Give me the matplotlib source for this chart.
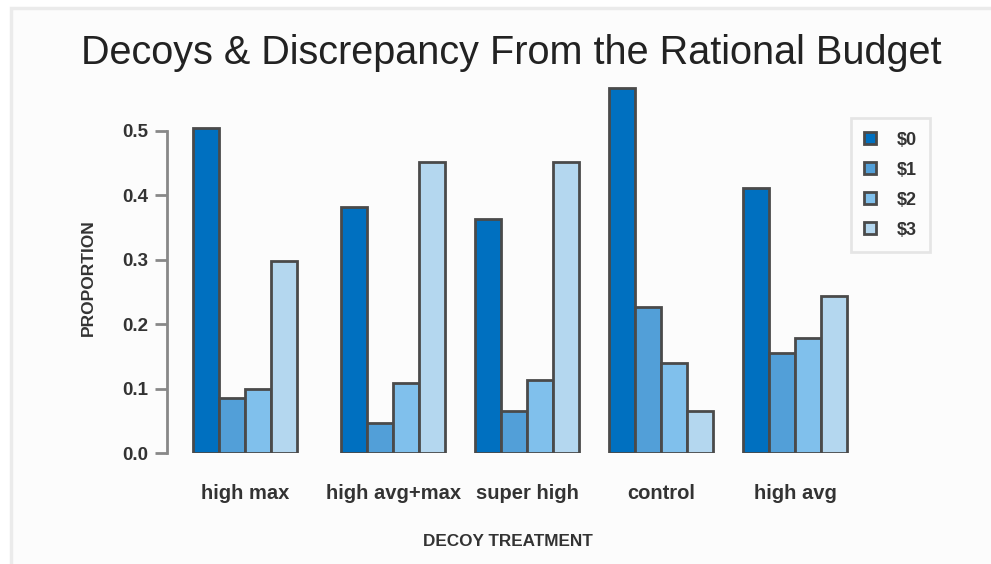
import numpy as np
import matplotlib.pyplot as plt
from matplotlib.patches import Rectangle

plt.rcParams['font.family'] = ['Liberation Sans', 'DejaVu Sans']

# proportion of subjects by discrepancy from the rational budget
treatments = ['high max', 'high avg+max', 'super high', 'control', 'high avg']
levels = ['$0', '$1', '$2', '$3']
d0 = [0.505, 0.382, 0.364, 0.567, 0.412]
d1 = [0.086, 0.047, 0.065, 0.227, 0.156]
d2 = [0.100, 0.109, 0.114, 0.140, 0.179]
d3 = [0.298, 0.452, 0.452, 0.065, 0.244]
colors = ['#0070c0', '#529fd8', '#80c0ec', '#b4d7ef']

fig = plt.figure(figsize=(9.91, 5.64), dpi=100)
fig.patch.set_facecolor('white')
# light panel behind the chart
fig.patches.append(Rectangle((11 / 991, -0.05), 1.1, (564 - 8) / 564 + 0.05,
                             transform=fig.transFigure, facecolor='#fcfcfc',
                             edgecolor='#ebebeb', lw=2.5, zorder=-10))

ax = fig.add_axes([167 / 991, (564 - 453.3) / 564, (940 - 167) / 991, 387 / 564])
ax.patch.set_alpha(0)

x = np.arange(len(treatments)).astype(float)
x[0] -= 0.104
w = 0.194
for i, vals in enumerate([d0, d1, d2, d3]):
    ax.bar(x + (i - 1.5) * w, vals, w, color=colors[i], edgecolor='#4a4a4a',
           linewidth=2, label=levels[i], zorder=3)

ax.set_xlim(-0.687, 5.08)
ax.set_ylim(0, 0.6)
ax.set_yticks([0.0, 0.1, 0.2, 0.3, 0.4, 0.5])
ax.set_yticklabels(['0.0', '0.1', '0.2', '0.3', '0.4', '0.5'],
                   fontsize=13.5, fontweight='bold', color='#333333')
ax.set_xticks(x)
ax.set_xticklabels(treatments, fontsize=14.5, fontweight='bold', color='#333333')
ax.tick_params(axis='x', length=0, pad=22)
ax.tick_params(axis='y', length=8.6, width=2, color='#888888', pad=5)

for s in ['top', 'right', 'bottom']:
    ax.spines[s].set_visible(False)
ax.spines['left'].set_bounds(0, 0.5)
ax.spines['left'].set_color('#888888')
ax.spines['left'].set_linewidth(2)

fig.text(511 / 991, 1 - 53 / 564, 'Decoys & Discrepancy From the Rational Budget',
         ha='center', va='center', fontsize=28.5, color='#222222')
fig.text(88 / 991, 1 - 278 / 564, 'PROPORTION', rotation=90, ha='center',
         va='center', fontsize=12.5, fontweight='bold', color='#333333')
fig.text(508 / 991, 1 - 541 / 564, 'DECOY TREATMENT', ha='center', va='center',
         fontsize=12.3, fontweight='bold', color='#333333')

leg = ax.legend(loc='upper right', bbox_to_anchor=(930 / 991, 1 - 118 / 564),
                bbox_transform=fig.transFigure, frameon=True, fancybox=False,
                prop={'weight': 'bold', 'size': 13}, handlelength=0.67,
                handleheight=0.67, labelspacing=0.72, borderpad=0.75,
                handletextpad=1.1, borderaxespad=0)
leg.get_frame().set_edgecolor('#e0e0e0')
leg.get_frame().set_linewidth(2)
leg.get_frame().set_facecolor('#fcfcfc')
for t in leg.get_texts():
    t.set_color('#333333')

fig.savefig('out.png', dpi=100, facecolor=fig.get_facecolor())
